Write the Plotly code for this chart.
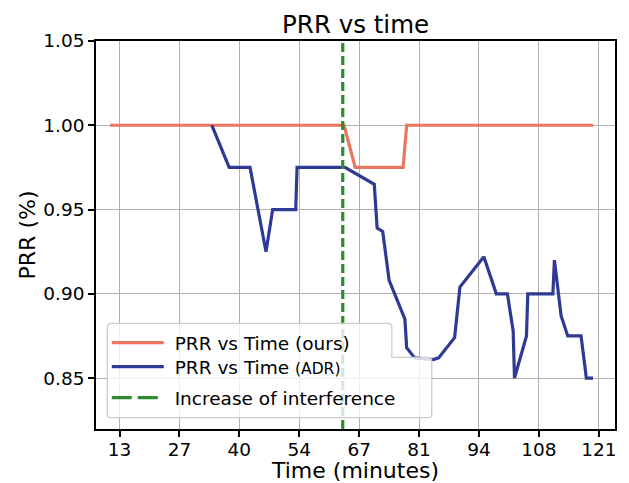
import plotly.graph_objects as go

# ---------------- data ----------------
ours_time = [10.9, 63.6, 66.1, 76.9, 77.7, 119.75]
ours_prr = [1.0, 1.0, 0.975, 0.975, 1.0, 1.0]

adr_time = [33.8, 37.7, 42.4, 46.0, 47.5, 52.7, 53.0, 63.8, 70.4, 71.05, 72.3, 73.75,
            77.3, 77.7, 79.5, 83.7, 84.9, 88.5, 89.7, 95.1, 97.9, 100.4, 101.7, 102.0,
            104.7, 105.0, 110.65, 111.0, 112.5, 114.0, 117.0, 118.2, 119.7]
adr_prr = [1.0, 0.975, 0.975, 0.925, 0.95, 0.95, 0.975, 0.975, 0.965, 0.939, 0.937, 0.908,
           0.885, 0.868, 0.862, 0.861, 0.862, 0.874, 0.904, 0.922, 0.900, 0.900, 0.878, 0.850,
           0.875, 0.900, 0.900, 0.920, 0.887, 0.875, 0.875, 0.850, 0.850]

interference_time = 63.3

x_tickvals = [13, 26.5, 40, 53.5, 67, 80.5, 94, 107.5, 121]
x_ticktext = ["13", "27", "40", "54", "67", "81", "94", "108", "121"]
y_tickvals = [0.85, 0.90, 0.95, 1.00, 1.05]

X_RANGE = [7.69, 124.65]
Y_RANGE = [0.8198, 1.05]

FONT = "DejaVu Sans"
ORANGE = "#ea7660"
BLUE = "#2f3a94"
GREEN = "#2e8a2e"

fig = go.Figure()
fig.add_trace(go.Scatter(x=ours_time, y=ours_prr, mode="lines",
                         line=dict(color=ORANGE, width=3.2),
                         name="&nbsp;PRR vs Time (ours)", legend="legend"))
fig.add_trace(go.Scatter(x=adr_time, y=adr_prr, mode="lines",
                         line=dict(color=BLUE, width=3.2),
                         name="&nbsp;PRR vs Time <span style='font-size:15.5px'>(ADR)</span>",
                         legend="legend2"))
fig.add_trace(go.Scatter(x=[interference_time, interference_time], y=Y_RANGE, mode="lines",
                         line=dict(color=GREEN, width=3.2, dash="9px,4px"),
                         showlegend=False, hoverinfo="skip"))
# legend handle for the interference line (longer dashes, as in the reference legend)
fig.add_trace(go.Scatter(x=[None], y=[None], mode="lines",
                         line=dict(color=GREEN, width=3.2, dash="20px,6px"),
                         name="&nbsp;Increase of interference", legend="legend3"))

# plot-area pixel geometry
W, H = 629, 483
PL, PR, PT, PB = 95.7, 615.5, 40.7, 429.3


def px(xp):
    return (xp - PL) / (PR - PL)


def py(yp):
    return (PB - yp) / (PB - PT)


# notched legend frame
L, T, R1, N, R2, B, r = 107, 323.5, 392, 357.5, 432, 418, 4
pts = [("M", L + r, T), ("L", R1 - r, T), ("Q", R1, T, R1, T + r), ("L", R1, N),
       ("L", R2 - r, N), ("Q", R2, N, R2, N + r), ("L", R2, B - r), ("Q", R2, B, R2 - r, B),
       ("L", L + r, B), ("Q", L, B, L, B - r), ("L", L, T + r), ("Q", L, T, L + r, T)]
path = ""
for p in pts:
    if p[0] == "Q":
        path += f"Q{px(p[1]):.5f},{py(p[2]):.5f} {px(p[3]):.5f},{py(p[4]):.5f} "
    else:
        path += f"{p[0]}{px(p[1]):.5f},{py(p[2]):.5f} "
path += "Z"
fig.add_shape(type="path", path=path, xref="paper", yref="paper", layer="above",
              fillcolor="rgba(255,255,255,0.8)", line=dict(color="#cccccc", width=1.3))

leg_common = dict(xanchor="left", yanchor="middle", bgcolor="rgba(0,0,0,0)", borderwidth=0,
                  font=dict(family=FONT, size=18.5, color="black"), itemwidth=52,
                  xref="paper", yref="paper")
LEGX = px(106.5)
fig.update_layout(
    legend=dict(x=LEGX, y=py(343.3), **leg_common),
    legend2=dict(x=LEGX, y=py(367.3), **leg_common),
    legend3=dict(x=LEGX, y=py(398.3), **leg_common),
)

fig.update_layout(
    width=W, height=H,
    margin=dict(l=PL, r=W - PR, t=PT, b=H - PB, autoexpand=False),
    paper_bgcolor="white", plot_bgcolor="white",
    font=dict(family=FONT, size=18.5, color="black"),
    title=dict(text="PRR vs time", x=(PL + PR) / 2 / W, xanchor="center",
               y=1 - 24 / H, yanchor="middle", font=dict(size=24.5, color="black")),
    showlegend=True,
)
fig.update_xaxes(range=X_RANGE, tickvals=x_tickvals, ticktext=x_ticktext,
                 showgrid=True, gridcolor="#b0b0b0", gridwidth=1.3,
                 showline=True, linecolor="black", linewidth=1.5, mirror=True,
                 ticks="outside", ticklen=6, tickwidth=1.5, tickcolor="black",
                 ticklabelstandoff=-3,
                 zeroline=False, tickfont=dict(size=18.5),
                 title=dict(text="Time (minutes)", font=dict(size=22), standoff=8))
fig.update_yaxes(range=Y_RANGE, tickvals=y_tickvals, tickformat=".2f",
                 showgrid=True, gridcolor="#b0b0b0", gridwidth=1.3,
                 showline=True, linecolor="black", linewidth=1.5, mirror=True,
                 ticks="outside", ticklen=6, tickwidth=1.5, tickcolor="black",
                 zeroline=False, tickfont=dict(size=18.5),
                 title=dict(text="PRR (%)", font=dict(size=22), standoff=2))

fig.write_html("out.html", config={"displayModeBar": False},
               post_script="document.body.style.margin='0';")
